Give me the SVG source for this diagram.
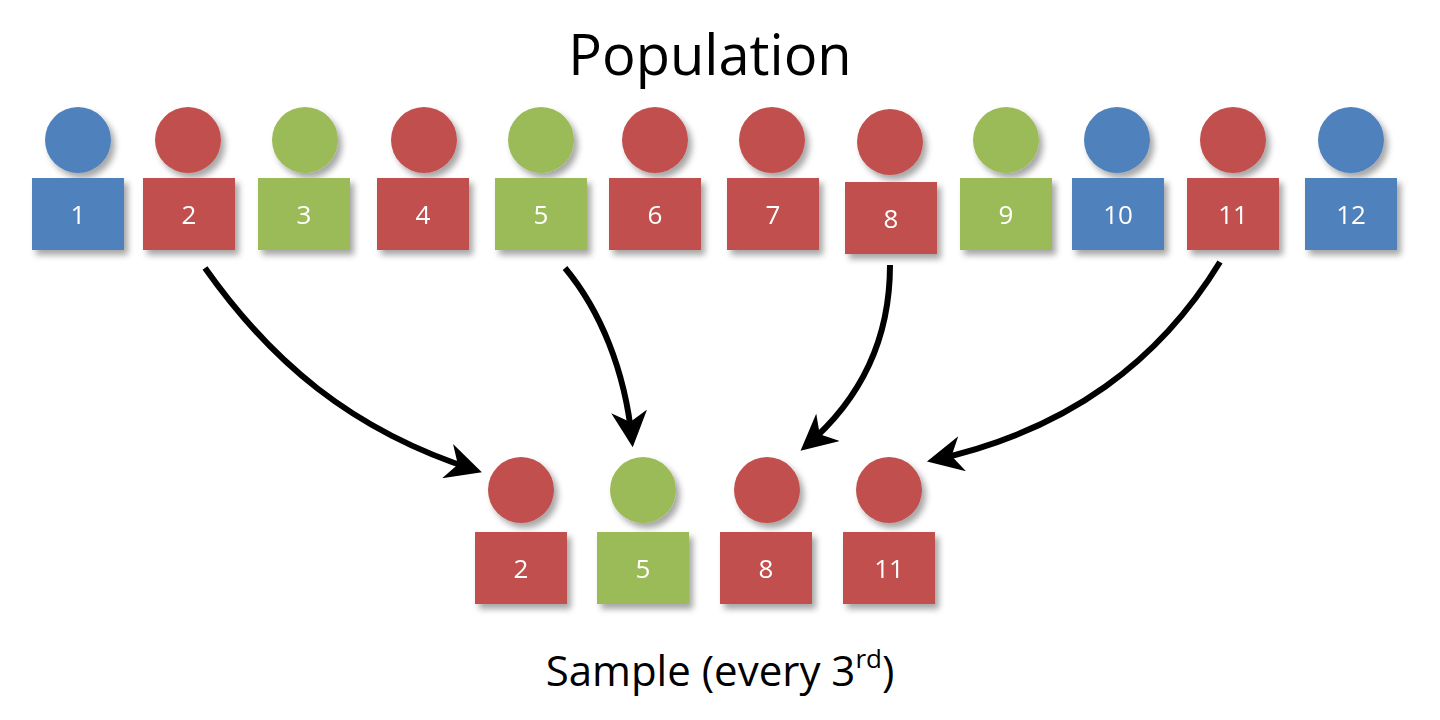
<svg xmlns="http://www.w3.org/2000/svg" width="1440" height="720" viewBox="0 0 1440 720">
<defs>
<filter id="sh" x="-20%" y="-20%" width="150%" height="150%"><feDropShadow dx="4" dy="5" stdDeviation="3" flood-color="#000" flood-opacity="0.35"/></filter>
<marker id="ah" viewBox="0 0 10 10" refX="8" refY="5" markerWidth="6" markerHeight="6" orient="auto" markerUnits="strokeWidth"><path d="M0,0 L10,5 L0,10 L3,5 z" fill="#000"/></marker>
<style>
.b{fill:#4F81BD}.r{fill:#C0504D}.g{fill:#9BBB59}
.n{font-family:"Open Sans","DejaVu Sans",sans-serif;font-size:26px;fill:#fff;text-anchor:middle}
.t{font-family:"Open Sans","DejaVu Sans",sans-serif;fill:#000;text-anchor:middle}
.c{fill:none;stroke:#000;stroke-width:6;marker-end:url(#ah)}
</style>
</defs>
<rect width="1440" height="720" fill="#fff"/>
<text class="t" x="710" y="75" font-size="56">Population</text>
<text class="t" x="720" y="686" font-size="42">Sample (every 3<tspan font-size="26" dy="-18">rd</tspan><tspan dy="18">)</tspan></text>
<g filter="url(#sh)">
<g id="p1"><circle class="b" cx="78" cy="140" r="33"/><rect class="b" x="32" y="178" width="92" height="72"/><text class="n" x="78" y="224">1</text></g>
<g id="p2"><circle class="r" cx="188" cy="140" r="33"/><rect class="r" x="143" y="178" width="92" height="72"/><text class="n" x="189" y="224">2</text></g>
<g id="p3"><circle class="g" cx="305" cy="140" r="33"/><rect class="g" x="258" y="178" width="92" height="72"/><text class="n" x="304" y="224">3</text></g>
<g id="p4"><circle class="r" cx="424" cy="140" r="33"/><rect class="r" x="377" y="178" width="92" height="72"/><text class="n" x="423" y="224">4</text></g>
<g id="p5"><circle class="g" cx="541" cy="140" r="33"/><rect class="g" x="495" y="178" width="92" height="72"/><text class="n" x="541" y="224">5</text></g>
<g id="p6"><circle class="r" cx="655" cy="140" r="33"/><rect class="r" x="609" y="178" width="92" height="72"/><text class="n" x="655" y="224">6</text></g>
<g id="p7"><circle class="r" cx="772" cy="140" r="33"/><rect class="r" x="727" y="178" width="92" height="72"/><text class="n" x="773" y="224">7</text></g>
<g id="p8"><circle class="r" cx="890" cy="142" r="33"/><rect class="r" x="845" y="182" width="92" height="72"/><text class="n" x="891" y="228">8</text></g>
<g id="p9"><circle class="g" cx="1006" cy="140" r="33"/><rect class="g" x="960" y="178" width="92" height="72"/><text class="n" x="1006" y="224">9</text></g>
<g id="p10"><circle class="b" cx="1117" cy="140" r="33"/><rect class="b" x="1072" y="178" width="92" height="72"/><text class="n" x="1118" y="224">10</text></g>
<g id="p11"><circle class="r" cx="1233" cy="140" r="33"/><rect class="r" x="1187" y="178" width="92" height="72"/><text class="n" x="1233" y="224">11</text></g>
<g id="p12"><circle class="b" cx="1351" cy="140" r="33"/><rect class="b" x="1305" y="178" width="92" height="72"/><text class="n" x="1351" y="224">12</text></g>
<g id="s2"><circle class="r" cx="521" cy="490" r="33"/><rect class="r" x="475" y="532" width="92" height="72"/><text class="n" x="521" y="578">2</text></g>
<g id="s5"><circle class="g" cx="643" cy="490" r="33"/><rect class="g" x="597" y="532" width="92" height="72"/><text class="n" x="643" y="578">5</text></g>
<g id="s8"><circle class="r" cx="767" cy="490" r="33"/><rect class="r" x="720" y="532" width="92" height="72"/><text class="n" x="766" y="578">8</text></g>
<g id="s11"><circle class="r" cx="889" cy="490" r="33"/><rect class="r" x="843" y="532" width="92" height="72"/><text class="n" x="889" y="578">11</text></g>
</g>
<g id="connectors">
<path class="c" d="M205,268 C270,360 350,430 475,470"/>
<path class="c" d="M565,268 C600,310 625,370 632,440"/>
<path class="c" d="M890,265 C890,340 860,400 806,446"/>
<path class="c" d="M1220,262 C1160,360 1070,430 934,460"/>
</g>
</svg>
